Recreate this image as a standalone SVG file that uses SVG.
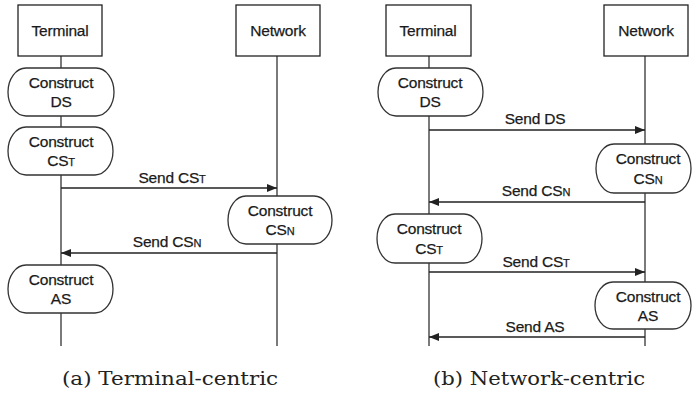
<svg xmlns="http://www.w3.org/2000/svg" width="692" height="396" viewBox="0 0 692 396">
  <defs>
    <marker id="arrow" viewBox="0 0 10 8" refX="10" refY="4" markerWidth="10" markerHeight="8" markerUnits="userSpaceOnUse" orient="auto">
      <path d="M0,0 L10,4 L0,8 Z" fill="#222"/>
    </marker>
    <style>
      .box { fill: #fff; stroke: #222; stroke-width: 1.3; }
      .pill { fill: #fff; stroke: #333; stroke-width: 1.3; }
      .life { stroke: #333; stroke-width: 1.3; fill: none; }
      .msg { stroke: #222; stroke-width: 1.3; fill: none; marker-end: url(#arrow); }
      .lbl { font-family: "Liberation Sans", Arial, sans-serif; font-size: 15.5px; fill: #1a1a1a; stroke: #1a1a1a; stroke-width: 0.25; letter-spacing: -0.2px; text-anchor: middle; }
      .sub { font-size: 11px; }
      .cap { font-family: "DejaVu Serif", "Liberation Serif", serif; font-size: 19px; fill: #222; text-anchor: middle; }
    </style>
  </defs>
  <rect width="692" height="396" fill="#fff"/>

  <!-- Panel (a): terminal-centric -->
  <g id="a-lifelines">
    <line class="life" x1="61" y1="56" x2="61" y2="346"/>
    <line class="life" x1="277" y1="56" x2="277" y2="346"/>
  </g>
  <g id="a-connectors">
    <line class="msg" x1="61" y1="188" x2="277" y2="188"/>
    <text class="lbl" x="172" y="183">Send CS<tspan class="sub">T</tspan></text>
    <line class="msg" x1="277" y1="253" x2="61" y2="253"/>
    <text class="lbl" x="167" y="247">Send CS<tspan class="sub">N</tspan></text>
  </g>
  <g id="a-terminal">
    <rect class="box" x="18" y="5" width="84" height="51"/>
    <text class="lbl" x="60" y="36">Terminal</text>
  </g>
  <g id="a-network">
    <rect class="box" x="236" y="5" width="84" height="51"/>
    <text class="lbl" x="278" y="36">Network</text>
  </g>
  <g id="a-construct-ds">
    <rect class="pill" x="8" y="68" width="106" height="48" rx="18" ry="24"/>
    <text class="lbl" x="61" y="88">Construct</text>
    <text class="lbl" x="61" y="107">DS</text>
  </g>
  <g id="a-construct-cst">
    <rect class="pill" x="8" y="127" width="105" height="48" rx="18" ry="24"/>
    <text class="lbl" x="61" y="147">Construct</text>
    <text class="lbl" x="61" y="166">CS<tspan class="sub">T</tspan></text>
  </g>
  <g id="a-construct-csn">
    <rect class="pill" x="228" y="196" width="104" height="48" rx="18" ry="24"/>
    <text class="lbl" x="280" y="216">Construct</text>
    <text class="lbl" x="280" y="235">CS<tspan class="sub">N</tspan></text>
  </g>
  <g id="a-construct-as">
    <rect class="pill" x="8" y="265" width="105" height="48" rx="18" ry="24"/>
    <text class="lbl" x="61" y="285">Construct</text>
    <text class="lbl" x="61" y="304">AS</text>
  </g>
  <text class="cap" x="170" y="385" textLength="216" lengthAdjust="spacingAndGlyphs">(a) Terminal-centric</text>

  <!-- Panel (b): network-centric -->
  <g id="b-lifelines">
    <line class="life" x1="429" y1="56" x2="429" y2="346"/>
    <line class="life" x1="645" y1="56" x2="645" y2="346"/>
  </g>
  <g id="b-connectors">
    <line class="msg" x1="429" y1="130" x2="645" y2="130"/>
    <text class="lbl" x="535" y="124">Send DS</text>
    <line class="msg" x1="645" y1="202" x2="429" y2="202"/>
    <text class="lbl" x="536" y="196">Send CS<tspan class="sub">N</tspan></text>
    <line class="msg" x1="429" y1="272" x2="645" y2="272"/>
    <text class="lbl" x="536" y="267">Send CS<tspan class="sub">T</tspan></text>
    <line class="msg" x1="645" y1="337" x2="429" y2="337"/>
    <text class="lbl" x="535" y="332">Send AS</text>
  </g>
  <g id="b-terminal">
    <rect class="box" x="386" y="5" width="85" height="51"/>
    <text class="lbl" x="428" y="36">Terminal</text>
  </g>
  <g id="b-network">
    <rect class="box" x="604" y="5" width="84" height="51"/>
    <text class="lbl" x="646" y="36">Network</text>
  </g>
  <g id="b-construct-ds">
    <rect class="pill" x="378" y="68" width="105" height="48" rx="18" ry="24"/>
    <text class="lbl" x="430" y="88">Construct</text>
    <text class="lbl" x="430" y="107">DS</text>
  </g>
  <g id="b-construct-csn">
    <rect class="pill" x="596" y="144" width="95" height="49" rx="18" ry="24.5"/>
    <text class="lbl" x="648" y="164">Construct</text>
    <text class="lbl" x="648" y="184">CS<tspan class="sub">N</tspan></text>
  </g>
  <g id="b-construct-cst">
    <rect class="pill" x="377" y="214" width="105" height="49" rx="18" ry="24.5"/>
    <text class="lbl" x="429" y="234">Construct</text>
    <text class="lbl" x="429" y="254">CS<tspan class="sub">T</tspan></text>
  </g>
  <g id="b-construct-as">
    <rect class="pill" x="595" y="282" width="96" height="47" rx="18" ry="23.5"/>
    <text class="lbl" x="648" y="302">Construct</text>
    <text class="lbl" x="648" y="321">AS</text>
  </g>
  <text class="cap" x="539" y="385" textLength="212" lengthAdjust="spacingAndGlyphs">(b) Network-centric</text>
</svg>
